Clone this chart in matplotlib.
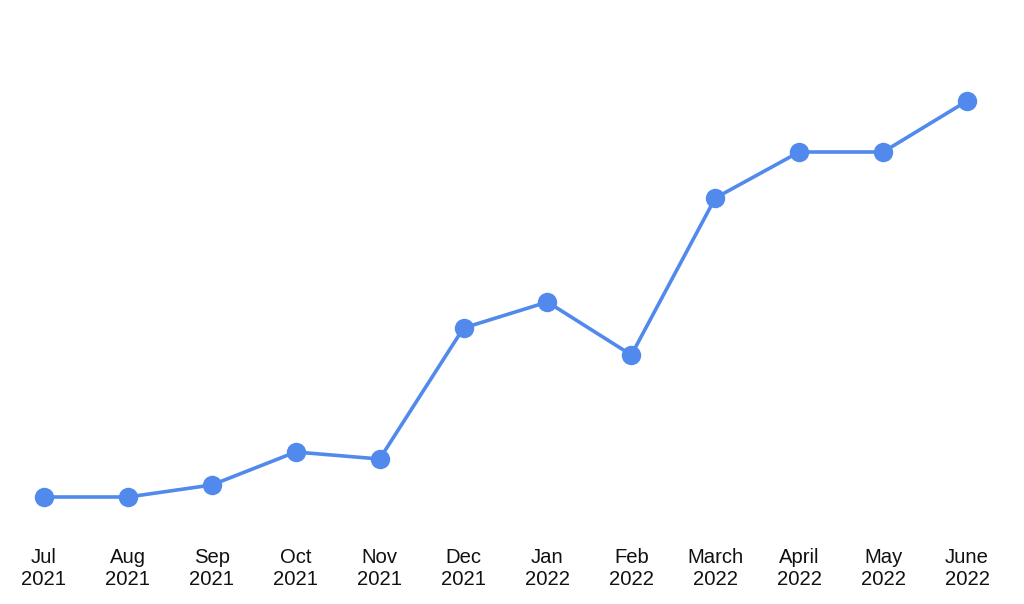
import matplotlib.pyplot as plt

months = ['Jul', 'Aug', 'Sep', 'Oct', 'Nov', 'Dec', 'Jan', 'Feb', 'March', 'April', 'May', 'June']
years = ['2021'] * 6 + ['2022'] * 6
values = [0, 0, 12, 45, 38, 169, 195, 142, 299, 345, 345, 396]

fig = plt.figure(figsize=(10.24, 6.04), dpi=100)
ax = fig.add_axes([0, 0, 1, 1])
ax.set_xlim(-0.524, 11.679)
ax.set_ylim(-107, 497)
ax.axis('off')

x = list(range(len(months)))
ax.plot(x, values, color='#518AEC', linewidth=2.6, marker='o', markersize=14,
        markerfacecolor='#518AEC', markeredgewidth=0, solid_capstyle='round')

for i, (m, yr) in enumerate(zip(months, years)):
    ax.text(i, 0.0585, m + '\n' + yr, transform=ax.get_xaxis_transform(),
            ha='center', va='center', fontsize=14.6, family='Liberation Sans',
            color='#111111', linespacing=1.2)

fig.savefig('out.png', dpi=100)
